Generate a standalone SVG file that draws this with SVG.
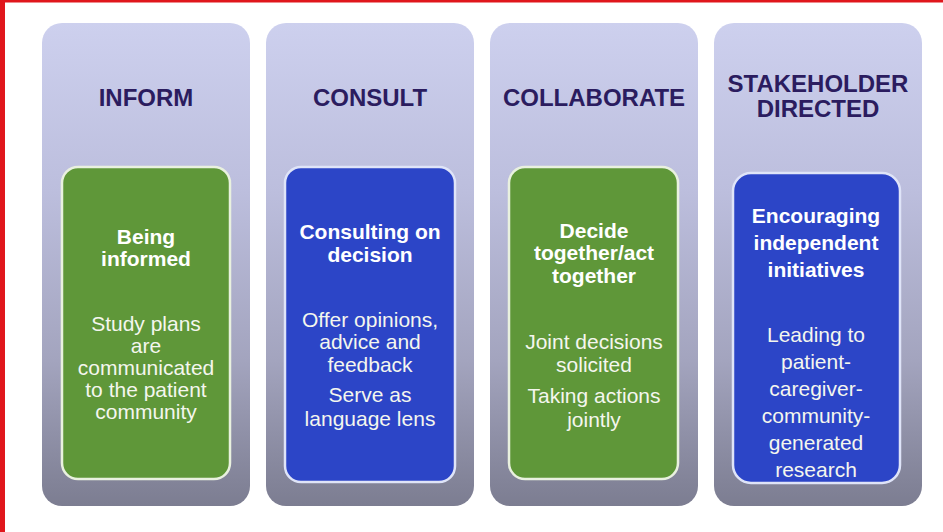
<svg xmlns="http://www.w3.org/2000/svg" width="943" height="532" viewBox="0 0 943 532">
  <defs>
    <linearGradient id="colFill" x1="0" y1="0" x2="0" y2="1">
      <stop offset="0" stop-color="#cdd0ee"/>
      <stop offset="0.35" stop-color="#bcbedd"/>
      <stop offset="0.7" stop-color="#a3a4be"/>
      <stop offset="1" stop-color="#7c7d91"/>
    </linearGradient>
    <filter id="soft" x="-10%" y="-10%" width="120%" height="120%">
      <feGaussianBlur stdDeviation="0.6"/>
    </filter>
  </defs>
  <style>
    .col { fill: url(#colFill); }
    .green { fill: #5f9739; stroke: #e9f1df; stroke-width: 2.5; }
    .blue { fill: #2c45c7; stroke: #dfe4f8; stroke-width: 2.5; }
    .title { font-family: "Liberation Sans", Arial, sans-serif; font-weight: bold; font-size: 24px; fill: #2b1c5f; text-anchor: middle; }
    .head { font-family: "Liberation Sans", Arial, sans-serif; font-weight: bold; font-size: 21px; fill: #ffffff; text-anchor: middle; }
    .body { font-family: "Liberation Sans", Arial, sans-serif; font-size: 21px; fill: #f4f6ee; text-anchor: middle; }
  </style>

  <rect x="0" y="0" width="943" height="532" fill="#ffffff"/>
  <!-- red frame on the top and left edges -->
  <rect x="0" y="0" width="943" height="2.5" fill="#e0161c"/>
  <rect x="0" y="0" width="5" height="532" fill="#e0161c"/>

  <g id="inform">
    <rect class="col" x="42" y="23" width="208" height="483" rx="20"/>
    <text class="title" x="146" y="106">INFORM</text>
    <rect class="green" x="62" y="167" width="168" height="312" rx="16"/>
    <text class="head" x="146" y="244">Being</text>
    <text class="head" x="146" y="266">informed</text>
    <text class="body" font-size="20" x="146" y="331">Study plans</text>
    <text class="body" font-size="20" x="146" y="353">are</text>
    <text class="body" font-size="20" x="146" y="375">communicated</text>
    <text class="body" font-size="20" x="146" y="397">to the patient</text>
    <text class="body" font-size="20" x="146" y="419">community</text>
  </g>

  <g id="consult">
    <rect class="col" x="266" y="23" width="208" height="483" rx="20"/>
    <text class="title" x="370" y="106">CONSULT</text>
    <rect class="blue" x="285" y="167" width="170" height="315" rx="16"/>
    <text class="head" x="370" y="239">Consulting on</text>
    <text class="head" x="370" y="262">decision</text>
    <text class="body" x="370" y="327">Offer opinions,</text>
    <text class="body" x="370" y="349">advice and</text>
    <text class="body" x="370" y="372">feedback</text>
    <text class="body" x="370" y="402">Serve as</text>
    <text class="body" x="370" y="426">language lens</text>
  </g>

  <g id="collaborate">
    <rect class="col" x="490" y="23" width="208" height="483" rx="20"/>
    <text class="title" x="594" y="106">COLLABORATE</text>
    <rect class="green" x="509" y="167" width="169" height="312" rx="16"/>
    <text class="head" x="594" y="238">Decide</text>
    <text class="head" x="594" y="260">together/act</text>
    <text class="head" x="594" y="283">together</text>
    <text class="body" x="594" y="349">Joint decisions</text>
    <text class="body" x="594" y="372">solicited</text>
    <text class="body" x="594" y="403">Taking actions</text>
    <text class="body" x="594" y="427">jointly</text>
  </g>

  <g id="stakeholder-directed">
    <rect class="col" x="714" y="23" width="208" height="483" rx="20"/>
    <text class="title" x="818" y="92">STAKEHOLDER</text>
    <text class="title" x="818" y="117">DIRECTED</text>
    <rect class="blue" x="733" y="173" width="167" height="310" rx="18"/>
    <text class="head" font-size="22" x="816" y="223">Encouraging</text>
    <text class="head" font-size="22" x="816" y="250">independent</text>
    <text class="head" font-size="22" x="816" y="277">initiatives</text>
    <text class="body" x="816" y="342">Leading to</text>
    <text class="body" x="816" y="369">patient-</text>
    <text class="body" x="816" y="396">caregiver-</text>
    <text class="body" x="816" y="423">community-</text>
    <text class="body" x="816" y="450">generated</text>
    <text class="body" x="816" y="477">research</text>
  </g>

  <g id="connectors"/>
</svg>
